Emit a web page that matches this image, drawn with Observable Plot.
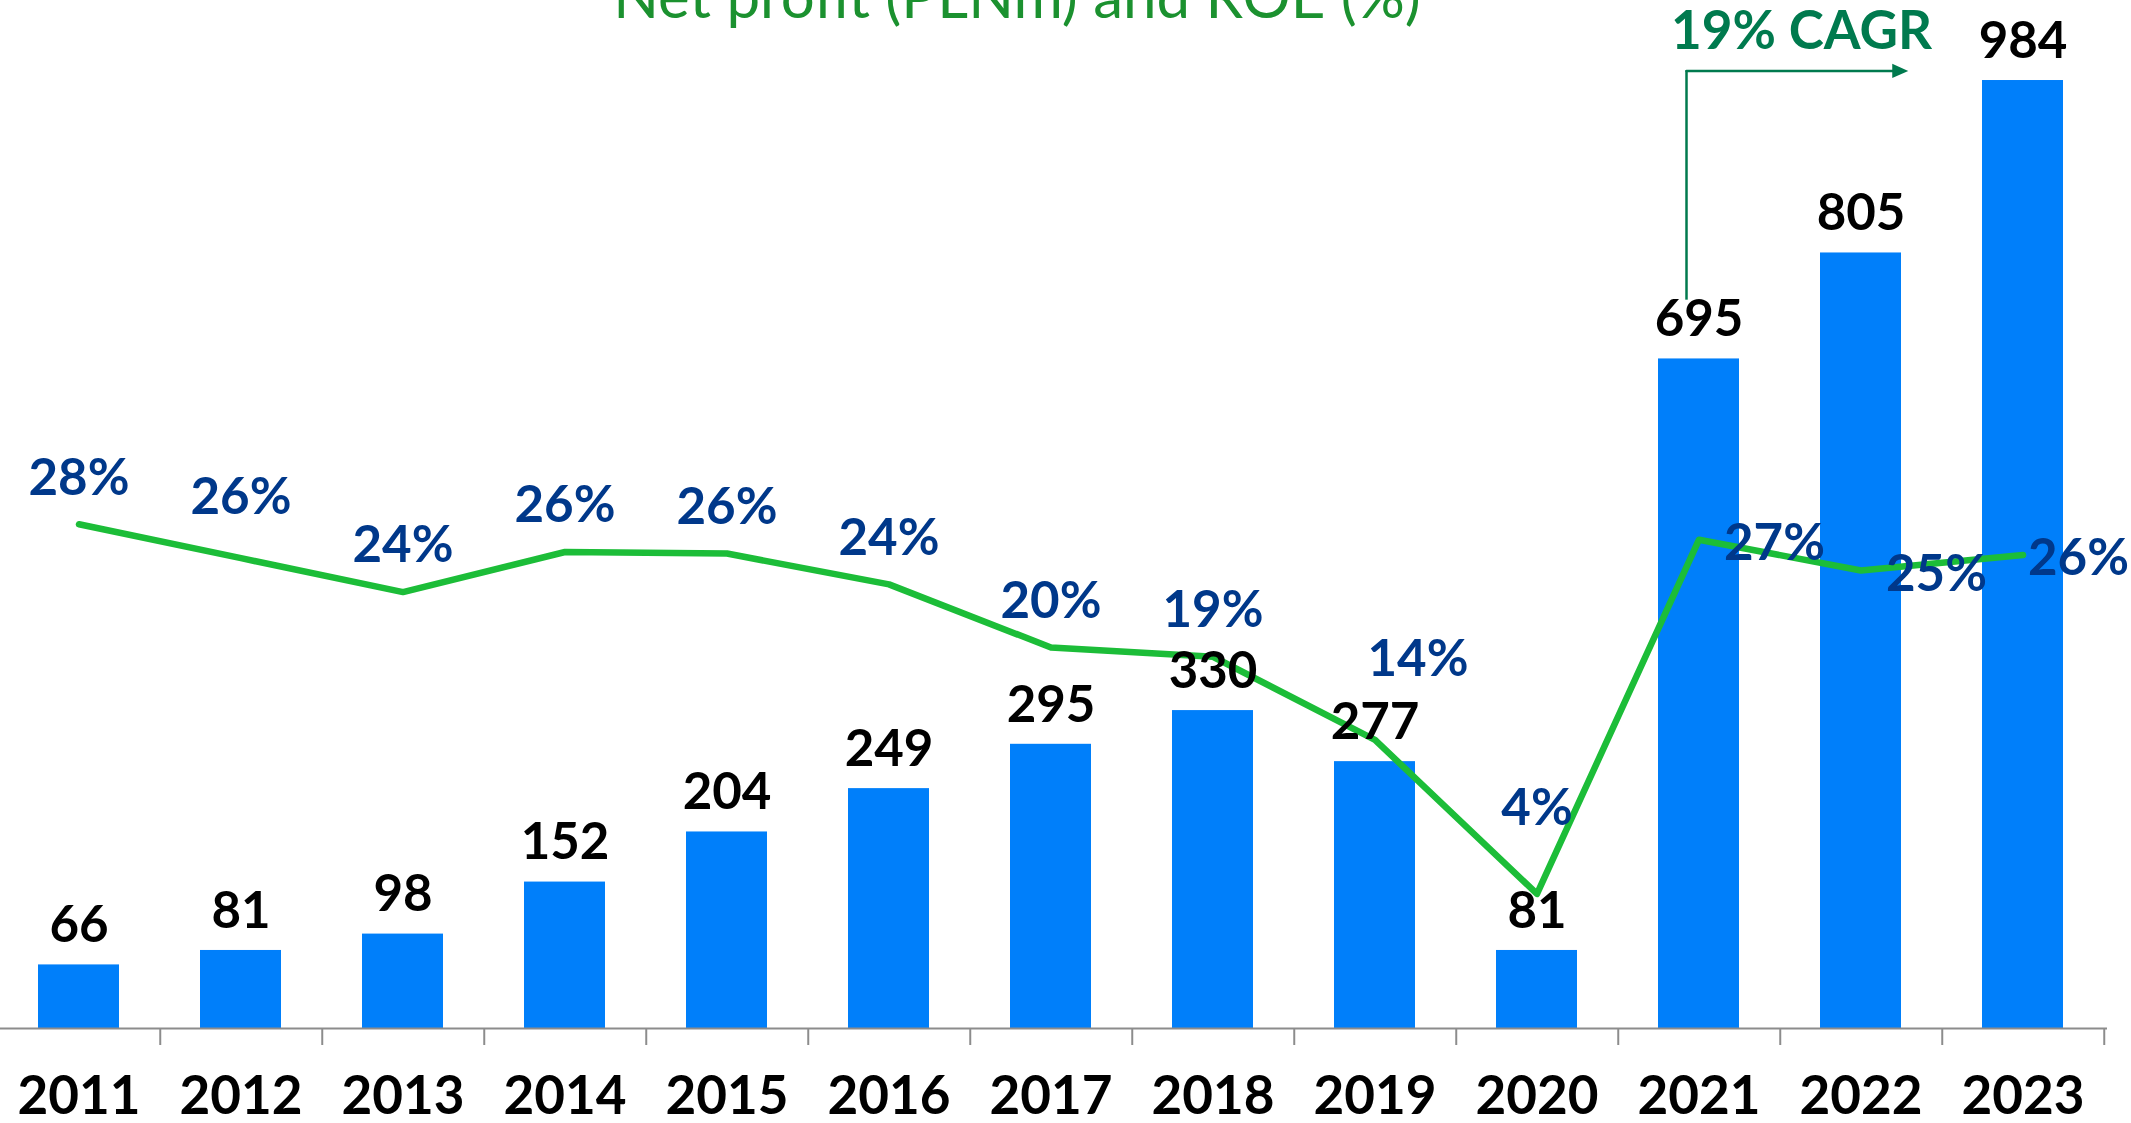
<!DOCTYPE html>
<html>
<head>
<meta charset="utf-8">
<script src="https://cdn.jsdelivr.net/npm/d3@7"></script>
<script src="https://cdn.jsdelivr.net/npm/@observablehq/plot@0.6"></script>
<style>
  html, body { margin: 0; padding: 0; background: #fff; overflow: hidden; }
  #wrap { position: relative; width: 2131px; height: 1123px; overflow: hidden; font-family: Lato, sans-serif; }
  #title { position: absolute; top: -35px; left: 1017px; transform: translateX(-50%);
           font-family: Lato, sans-serif; font-size: 60px; line-height: 1; font-weight: 400;
           color: #1b912f; white-space: nowrap; }
</style>
</head>
<body>
<div id="wrap"><div id="title"></div></div>
<script>
// ---- data ----
const titleText = "Net profit (PLNm) and ROE (%)";
const years = ["2011","2012","2013","2014","2015","2016","2017","2018","2019","2020","2021","2022","2023"];
const netProfit = [66, 81, 98, 152, 204, 249, 295, 330, 277, 81, 695, 805, 984];
const roe = [28, 25.8, 23.6, 26.2, 26.1, 24.1, 20, 19.4, 14, 4, 27, 25, 26];
const cagrLabel = "19% CAGR";
const cagrFrom = "2021", cagrTo = "2023";
const cagrLow = 756, cagrHigh = 994; // arrow bracket extent in PLNm units

const data = years.map((year, i) => ({year, profit: netProfit[i], roe: roe[i], roeLabel: Math.round(roe[i]) + "%"}));

document.getElementById("title").textContent = titleText;

const W = 2131, H = 1123;
const barColor = "#007ffa", lineColor = "#1cbd38", roeColor = "#00388a", cagrColor = "#007a4e", axisColor = "#8c8c8c";
const font = {fontFamily: "Lato", fontSize: 51, fontWeight: 700};

const xScale = {type: "band", domain: years, range: [-5.5, 2107], paddingInner: 0.5, paddingOuter: 0.25, align: 0.5, axis: null};
const yProfit = {domain: [0, 1000], range: [1028, 64.6], axis: null};
const yRoe = {domain: [0, 30], range: [955, 493], axis: null};
const common = {
  width: W, height: H, marginTop: 0, marginBottom: 0, marginLeft: 0, marginRight: 24,
  style: {position: "absolute", left: "0px", top: "0px", background: "transparent", overflow: "visible", fontFamily: "Lato"}
};

const wrap = document.getElementById("wrap");

// Layer A: bars, axis, ticks, year labels
wrap.appendChild(Plot.plot({
  ...common, x: xScale, y: yProfit,
  marks: [
    Plot.barY(data, {x: "year", y: "profit", fill: barColor}),
    Plot.ruleY([0], {stroke: axisColor, strokeWidth: 2}),
    Plot.ruleX(years, {x: d => d, y1: () => 0, y2: () => 0, insetBottom: -17, dx: 81.25, stroke: axisColor, strokeWidth: 2}),
    Plot.text(years, {x: d => d, y: () => 0, dy: 69, text: d => d, fill: "#000", ...font, fontSize: 53})
  ]
}));

// Layer B: ROE line + labels
const inYears = (arr) => (d) => arr.includes(d.year);
const grpAbove = ["2011","2013","2014","2015","2016","2017","2018"];
wrap.appendChild(Plot.plot({
  ...common, x: xScale, y: yRoe,
  marks: [
    Plot.line(data, {x: "year", y: "roe", stroke: lineColor, strokeWidth: 6.5}),
    Plot.text(data, {filter: inYears(grpAbove), x: "year", y: "roe", text: "roeLabel", dy: -46, fill: roeColor, ...font}),
    Plot.text(data, {filter: inYears(["2012"]), x: "year", y: "roe", text: "roeLabel", dy: -61, fill: roeColor, ...font}),
    Plot.text(data, {filter: inYears(["2019"]), x: "year", y: "roe", text: "roeLabel", dx: 43, dy: -80, fill: roeColor, ...font}),
    Plot.text(data, {filter: inYears(["2020"]), x: "year", y: "roe", text: "roeLabel", dy: -85, fill: roeColor, ...font}),
    Plot.text(data, {filter: inYears(["2021","2022"]), x: "year", y: "roe", text: "roeLabel", textAnchor: "start", dx: 25, dy: 4, fill: roeColor, ...font}),
    Plot.text(data, {filter: inYears(["2023"]), x: "year", y: "roe", text: "roeLabel", textAnchor: "start", dx: 5, dy: 4, fill: roeColor, ...font})
  ]
}));

// Layer C: bar value labels + CAGR annotation
const arrowHead = {draw(ctx, size) { const r = Math.sqrt(size / Math.PI); ctx.moveTo(r, 0); ctx.lineTo(-r, -0.9 * r); ctx.lineTo(-r, 0.9 * r); ctx.closePath(); }};
wrap.appendChild(Plot.plot({
  ...common, x: xScale, y: yProfit,
  marks: [
    Plot.text(data, {x: "year", y: "profit", text: d => String(d.profit), dy: -39, fill: "#000", ...font}),
    Plot.ruleX([cagrFrom], {x: d => d, y1: () => cagrLow, y2: () => cagrHigh, dx: -12.5, stroke: cagrColor, strokeWidth: 2.5}),
    Plot.arrow([0], {x1: () => cagrFrom, x2: () => cagrTo, y1: () => cagrHigh, y2: () => cagrHigh, dx: -12.5, insetEnd: 108, headLength: 0, stroke: cagrColor, strokeWidth: 2.5}),
    Plot.dot([0], {x: () => cagrTo, y: () => cagrHigh, dx: -122.75, r: 8, symbol: arrowHead, fill: cagrColor, stroke: "none"}),
    Plot.text([cagrLabel], {x: () => cagrFrom, frameAnchor: "top", lineAnchor: "middle", dx: -28, dy: 32, textAnchor: "start", text: d => d, fill: cagrColor, ...font, fontSize: 53})
  ]
}));
</script>
</body>
</html>
